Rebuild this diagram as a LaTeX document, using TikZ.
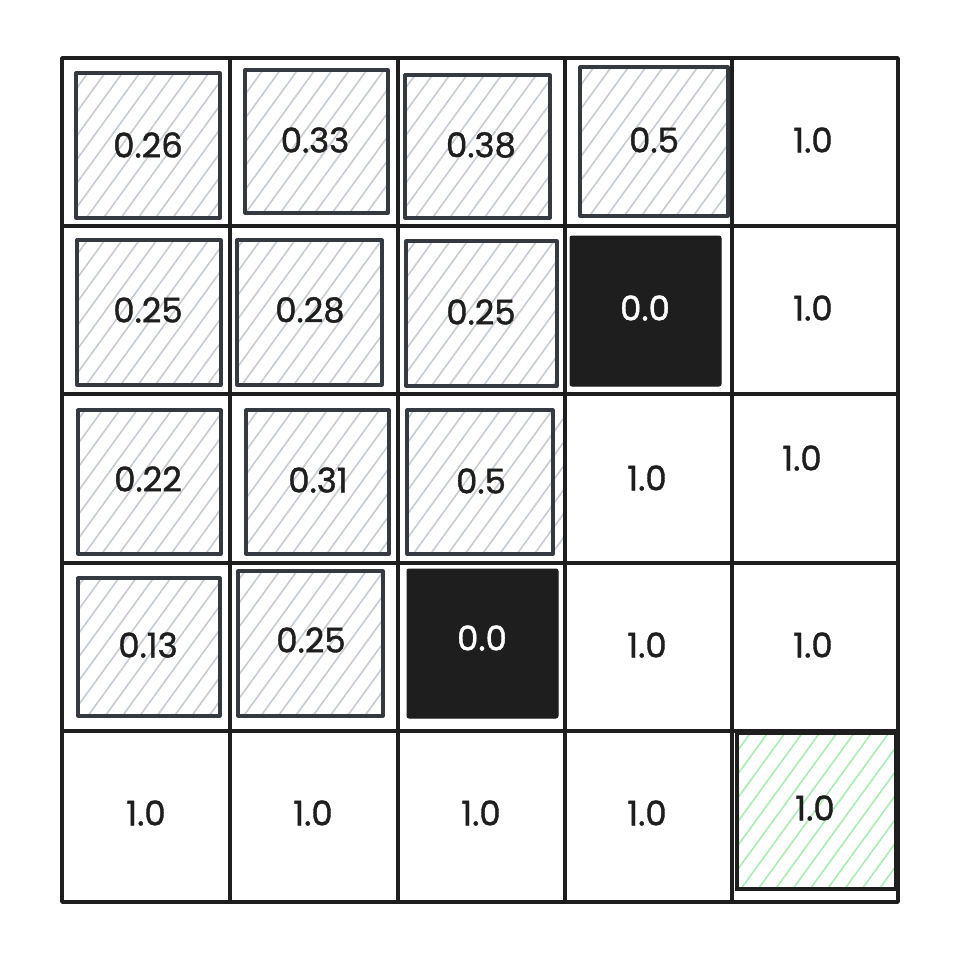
\documentclass[tikz,border=0pt]{standalone}
\usepackage{fontspec}
\setmainfont{Poppins}
\newfontfamily\valfont{Poppins}[FakeBold=1.2]
\usetikzlibrary{patterns.meta}
\definecolor{ink}{HTML}{1E1E1E}
\definecolor{slate}{HTML}{343A40}
\definecolor{hatchgray}{HTML}{C6CCD3}
\definecolor{hatchgreen}{HTML}{A8EDB2}
\tikzset{
  gridcell/.style={draw=ink, line width=3.4pt, line join=round},
  grayhatch/.style={pattern={Lines[angle=54,distance=14pt,line width=1.6pt]}, pattern color=hatchgray},
  grayborder/.style={draw=slate, line width=3.2pt, line join=round},
  blackbox/.style={fill=ink, draw=ink, line width=1pt, rounded corners=2pt},
  greenhatch/.style={pattern={Lines[angle=54,distance=14pt,line width=1.6pt]}, pattern color=hatchgreen},
  val/.style={font=\valfont\fontsize{34}{36}\selectfont, text=ink, inner sep=0pt},
  valw/.style={val, text=white},
}
\begin{document}
\begin{tikzpicture}[x=1pt,y=-1pt]
\useasboundingbox (0,0) rectangle (964,956);
\fill[white] (0,0) rectangle (964,956);
% inner squares, hatched
\path[grayhatch] (76,73) rectangle (220,218);
\draw[grayborder] (76,73) rectangle (220,218);
\path[grayhatch] (245,70) rectangle (388,213);
\draw[grayborder] (245,70) rectangle (388,213);
\path[grayhatch] (405,75) rectangle (550,218);
\draw[grayborder] (405,75) rectangle (550,218);
\path[grayhatch] (580,67) rectangle (728,216);
\draw[grayborder] (580,67) rectangle (728,216);
\path[grayhatch] (77,240) rectangle (221,385);
\draw[grayborder] (77,240) rectangle (221,385);
\path[grayhatch] (237,240) rectangle (382,385);
\draw[grayborder] (237,240) rectangle (382,385);
\path[grayhatch] (406,241) rectangle (557,386);
\draw[grayborder] (406,241) rectangle (557,386);
\path[grayhatch] (78,410) rectangle (221,554);
\draw[grayborder] (78,410) rectangle (221,554);
\path[grayhatch] (246,410) rectangle (389,554);
\draw[grayborder] (246,410) rectangle (389,554);
\path[grayhatch] (407,410) rectangle (563,554);
\draw[grayborder] (407,410) rectangle (553,554);
\path[grayhatch] (78,578) rectangle (220,716);
\draw[grayborder] (78,578) rectangle (220,716);
\path[grayhatch] (238,571) rectangle (383,716);
\draw[grayborder] (238,571) rectangle (383,716);
% black squares
\path[blackbox] (570,236) rectangle (721,386);
\path[blackbox] (407,569) rectangle (558,718);
% green square
\path[greenhatch] (737,733) rectangle (896,889);
\draw[ink, line width=3.4pt] (737,733) rectangle (896,889);
% grid cells
\foreach \xa/\xb in {62/230,230/398,398/565,565/732,732/898}{
  \foreach \ya/\yb in {58/226,226/394,394/563,563/731,731/902}{
    \draw[gridcell] (\xa,\ya) rectangle (\xb,\yb);
  }
}
% values
\node[val] (v00) at (148,145) {0.26};
\node[val] (v01) at (315,140) {0.33};
\node[val] (v02) at (481,145) {0.38};
\node[val] (v03) at (654,140) {0.5};
\node[val] (v04) at (813,140) {1.0};
\node[val] (v10) at (148,310) {0.25};
\node[val] (v11) at (310,310) {0.28};
\node[val] (v12) at (481,312) {0.25};
\node[valw] (v13) at (645,308) {0.0};
\node[val] (v14) at (813,308) {1.0};
\node[val] (v20) at (148,479) {0.22};
\node[val] (v21) at (318,480) {0.31};
\node[val] (v22) at (481,481) {0.5};
\node[val] (v23) at (647,478) {1.0};
\node[val] (v24) at (802,458) {1.0};
\node[val] (v30) at (148,645) {0.13};
\node[val] (v31) at (311,640) {0.25};
\node[valw] (v32) at (482,638) {0.0};
\node[val] (v33) at (647,645) {1.0};
\node[val] (v34) at (813,645) {1.0};
\node[val] (v40) at (146,813) {1.0};
\node[val] (v41) at (313,813) {1.0};
\node[val] (v42) at (481,813) {1.0};
\node[val] (v43) at (647,813) {1.0};
\node[val] (v44) at (815,808) {1.0};
\end{tikzpicture}
\end{document}
